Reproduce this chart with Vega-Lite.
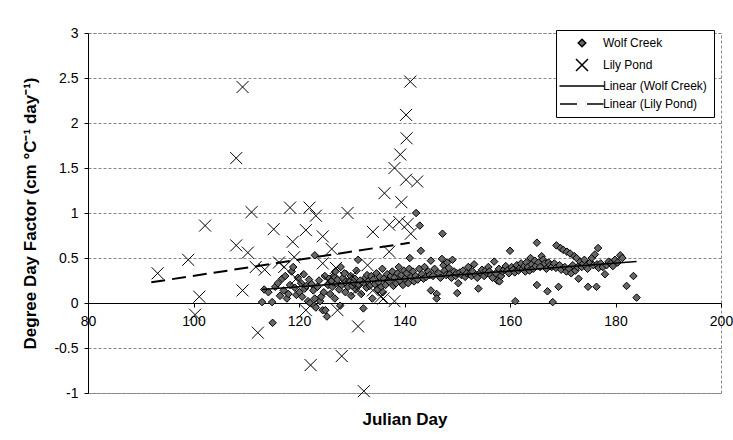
{
  "$schema": "https://vega.github.io/schema/vega-lite/v6.json",
  "width": 633,
  "height": 360,
  "autosize": "none",
  "padding": {"left": 88, "top": 33, "right": 12, "bottom": 47},
  "background": "white",
  "config": {
    "font": "Liberation Sans",
    "view": {"stroke": "#888", "strokeDash": [3, 2], "strokeWidth": 1}
  },
  "datasets": {
    "pts": [
      {"s":"Wolf Creek","d":113.0,"v":0.01},{"s":"Wolf Creek","d":113.4,"v":0.15},{"s":"Wolf Creek","d":114.2,"v":0.12},{"s":"Wolf Creek","d":114.9,"v":0.01},
      {"s":"Wolf Creek","d":115.0,"v":-0.22},{"s":"Wolf Creek","d":115.5,"v":0.18},{"s":"Wolf Creek","d":116.0,"v":0.22},{"s":"Wolf Creek","d":116.4,"v":0.08},{"s":"Wolf Creek","d":116.8,"v":0.27},
      {"s":"Wolf Creek","d":117.1,"v":0.14},{"s":"Wolf Creek","d":117.4,"v":0.30},{"s":"Wolf Creek","d":117.7,"v":0.05},
      {"s":"Wolf Creek","d":118.0,"v":0.10},{"s":"Wolf Creek","d":118.3,"v":0.20},{"s":"Wolf Creek","d":118.6,"v":0.35},{"s":"Wolf Creek","d":118.9,"v":0.40},
      {"s":"Wolf Creek","d":119.2,"v":0.17},{"s":"Wolf Creek","d":119.5,"v":0.09},{"s":"Wolf Creek","d":119.8,"v":0.28},
      {"s":"Wolf Creek","d":120.1,"v":0.12},{"s":"Wolf Creek","d":120.4,"v":0.22},{"s":"Wolf Creek","d":120.6,"v":0.07},{"s":"Wolf Creek","d":120.9,"v":0.32},
      {"s":"Wolf Creek","d":121.1,"v":0.16},{"s":"Wolf Creek","d":121.4,"v":0.19},{"s":"Wolf Creek","d":121.7,"v":0.02},{"s":"Wolf Creek","d":121.9,"v":0.26},
      {"s":"Wolf Creek","d":122.1,"v":0.00},{"s":"Wolf Creek","d":122.4,"v":0.21},{"s":"Wolf Creek","d":122.7,"v":0.14},{"s":"Wolf Creek","d":122.9,"v":-0.03},
      {"s":"Wolf Creek","d":123.0,"v":0.05},{"s":"Wolf Creek","d":123.2,"v":-0.05},{"s":"Wolf Creek","d":123.0,"v":0.53},{"s":"Wolf Creek","d":123.5,"v":0.18},{"s":"Wolf Creek","d":123.8,"v":0.25},
      {"s":"Wolf Creek","d":124.0,"v":0.02},{"s":"Wolf Creek","d":124.2,"v":0.07},{"s":"Wolf Creek","d":124.5,"v":-0.08},{"s":"Wolf Creek","d":124.7,"v":0.12},{"s":"Wolf Creek","d":124.9,"v":0.30},
      {"s":"Wolf Creek","d":125.3,"v":-0.15},{"s":"Wolf Creek","d":125.0,"v":-0.08},{"s":"Wolf Creek","d":125.5,"v":0.20},{"s":"Wolf Creek","d":125.7,"v":0.27},{"s":"Wolf Creek","d":125.9,"v":0.10},
      {"s":"Wolf Creek","d":126.1,"v":0.24},{"s":"Wolf Creek","d":126.3,"v":0.18},{"s":"Wolf Creek","d":126.6,"v":0.30},{"s":"Wolf Creek","d":126.8,"v":0.05},{"s":"Wolf Creek","d":126.9,"v":0.35},
      {"s":"Wolf Creek","d":127.1,"v":0.22},{"s":"Wolf Creek","d":127.3,"v":0.26},{"s":"Wolf Creek","d":127.6,"v":0.15},{"s":"Wolf Creek","d":127.8,"v":-0.03},{"s":"Wolf Creek","d":127.9,"v":0.40},
      {"s":"Wolf Creek","d":128.1,"v":0.20},{"s":"Wolf Creek","d":128.3,"v":0.28},{"s":"Wolf Creek","d":128.6,"v":0.33},{"s":"Wolf Creek","d":128.8,"v":0.12},{"s":"Wolf Creek","d":128.9,"v":0.24},
      {"s":"Wolf Creek","d":129.1,"v":0.21},{"s":"Wolf Creek","d":129.3,"v":0.18},{"s":"Wolf Creek","d":129.6,"v":0.25},{"s":"Wolf Creek","d":129.8,"v":0.30},{"s":"Wolf Creek","d":129.9,"v":0.08},
      {"s":"Wolf Creek","d":130.1,"v":0.19},{"s":"Wolf Creek","d":130.3,"v":0.23},{"s":"Wolf Creek","d":130.6,"v":0.27},{"s":"Wolf Creek","d":130.8,"v":0.15},{"s":"Wolf Creek","d":130.9,"v":0.36},
      {"s":"Wolf Creek","d":131.2,"v":0.48},{"s":"Wolf Creek","d":131.4,"v":0.20},{"s":"Wolf Creek","d":131.6,"v":0.25},{"s":"Wolf Creek","d":131.8,"v":0.10},
      {"s":"Wolf Creek","d":132.2,"v":-0.06},{"s":"Wolf Creek","d":132.3,"v":0.22},{"s":"Wolf Creek","d":132.6,"v":0.28},{"s":"Wolf Creek","d":132.8,"v":0.17},{"s":"Wolf Creek","d":132.9,"v":0.31},
      {"s":"Wolf Creek","d":133.1,"v":0.24},{"s":"Wolf Creek","d":133.4,"v":0.19},{"s":"Wolf Creek","d":133.7,"v":0.30},{"s":"Wolf Creek","d":133.9,"v":0.05},
      {"s":"Wolf Creek","d":134.1,"v":0.26},{"s":"Wolf Creek","d":134.4,"v":0.21},{"s":"Wolf Creek","d":134.7,"v":0.33},{"s":"Wolf Creek","d":134.9,"v":0.15},
      {"s":"Wolf Creek","d":135.1,"v":0.23},{"s":"Wolf Creek","d":135.3,"v":0.29},{"s":"Wolf Creek","d":135.6,"v":0.18},{"s":"Wolf Creek","d":135.8,"v":0.38},{"s":"Wolf Creek","d":135.9,"v":0.12},
      {"s":"Wolf Creek","d":136.1,"v":0.27},{"s":"Wolf Creek","d":136.4,"v":0.20},{"s":"Wolf Creek","d":136.7,"v":0.32},{"s":"Wolf Creek","d":136.9,"v":0.25},
      {"s":"Wolf Creek","d":137.1,"v":0.24},{"s":"Wolf Creek","d":137.4,"v":0.30},{"s":"Wolf Creek","d":137.7,"v":0.35},{"s":"Wolf Creek","d":137.9,"v":0.19},
      {"s":"Wolf Creek","d":138.1,"v":0.28},{"s":"Wolf Creek","d":138.4,"v":0.22},{"s":"Wolf Creek","d":138.7,"v":0.33},{"s":"Wolf Creek","d":138.9,"v":0.40},
      {"s":"Wolf Creek","d":139.1,"v":0.25},{"s":"Wolf Creek","d":139.4,"v":0.31},{"s":"Wolf Creek","d":139.7,"v":0.20},{"s":"Wolf Creek","d":139.9,"v":0.36},
      {"s":"Wolf Creek","d":140.1,"v":0.27},{"s":"Wolf Creek","d":140.4,"v":0.33},{"s":"Wolf Creek","d":140.7,"v":0.22},{"s":"Wolf Creek","d":140.9,"v":0.38},
      {"s":"Wolf Creek","d":141.0,"v":0.50},{"s":"Wolf Creek","d":141.3,"v":0.29},{"s":"Wolf Creek","d":141.6,"v":0.35},{"s":"Wolf Creek","d":141.8,"v":0.24},
      {"s":"Wolf Creek","d":142.2,"v":1.00},{"s":"Wolf Creek","d":142.1,"v":0.30},{"s":"Wolf Creek","d":142.5,"v":0.26},{"s":"Wolf Creek","d":142.8,"v":0.38},
      {"s":"Wolf Creek","d":142.9,"v":0.86},{"s":"Wolf Creek","d":143.1,"v":0.58},{"s":"Wolf Creek","d":143.3,"v":0.32},{"s":"Wolf Creek","d":143.6,"v":0.27},{"s":"Wolf Creek","d":143.8,"v":0.40},
      {"s":"Wolf Creek","d":144.1,"v":0.29},{"s":"Wolf Creek","d":144.5,"v":0.35},{"s":"Wolf Creek","d":144.8,"v":0.31},
      {"s":"Wolf Creek","d":145.0,"v":0.47},{"s":"Wolf Creek","d":145.0,"v":0.14},{"s":"Wolf Creek","d":145.4,"v":0.30},{"s":"Wolf Creek","d":145.7,"v":0.38},
      {"s":"Wolf Creek","d":146.1,"v":0.10},{"s":"Wolf Creek","d":146.1,"v":0.05},{"s":"Wolf Creek","d":146.5,"v":0.33},{"s":"Wolf Creek","d":146.8,"v":0.28},
      {"s":"Wolf Creek","d":147.2,"v":0.77},{"s":"Wolf Creek","d":147.1,"v":0.49},{"s":"Wolf Creek","d":147.4,"v":0.42},{"s":"Wolf Creek","d":147.6,"v":0.36},{"s":"Wolf Creek","d":147.9,"v":0.31},
      {"s":"Wolf Creek","d":148.1,"v":0.45},{"s":"Wolf Creek","d":148.4,"v":0.39},{"s":"Wolf Creek","d":148.6,"v":0.32},{"s":"Wolf Creek","d":148.9,"v":0.28},
      {"s":"Wolf Creek","d":149.1,"v":0.48},{"s":"Wolf Creek","d":149.4,"v":0.35},{"s":"Wolf Creek","d":149.7,"v":0.30},{"s":"Wolf Creek","d":149.9,"v":0.33},
      {"s":"Wolf Creek","d":150.0,"v":0.11},{"s":"Wolf Creek","d":150.2,"v":0.22},{"s":"Wolf Creek","d":150.5,"v":0.34},{"s":"Wolf Creek","d":150.8,"v":0.31},
      {"s":"Wolf Creek","d":151.1,"v":0.36},{"s":"Wolf Creek","d":151.5,"v":0.29},{"s":"Wolf Creek","d":151.8,"v":0.33},
      {"s":"Wolf Creek","d":152.1,"v":0.40},{"s":"Wolf Creek","d":152.4,"v":0.32},{"s":"Wolf Creek","d":152.7,"v":0.30},{"s":"Wolf Creek","d":152.9,"v":0.35},
      {"s":"Wolf Creek","d":153.2,"v":0.43},{"s":"Wolf Creek","d":153.5,"v":0.31},{"s":"Wolf Creek","d":153.8,"v":0.28},
      {"s":"Wolf Creek","d":154.0,"v":0.16},{"s":"Wolf Creek","d":154.4,"v":0.34},{"s":"Wolf Creek","d":154.7,"v":0.37},
      {"s":"Wolf Creek","d":155.1,"v":0.30},{"s":"Wolf Creek","d":155.4,"v":0.36},{"s":"Wolf Creek","d":155.7,"v":0.33},{"s":"Wolf Creek","d":155.9,"v":0.40},
      {"s":"Wolf Creek","d":156.1,"v":0.35},{"s":"Wolf Creek","d":156.4,"v":0.31},{"s":"Wolf Creek","d":156.7,"v":0.28},
      {"s":"Wolf Creek","d":157.0,"v":0.46},{"s":"Wolf Creek","d":157.3,"v":0.33},{"s":"Wolf Creek","d":157.6,"v":0.25},{"s":"Wolf Creek","d":157.9,"v":0.38},
      {"s":"Wolf Creek","d":158.0,"v":0.24},{"s":"Wolf Creek","d":158.3,"v":0.30},{"s":"Wolf Creek","d":158.6,"v":0.35},{"s":"Wolf Creek","d":158.9,"v":0.37},
      {"s":"Wolf Creek","d":159.2,"v":0.41},{"s":"Wolf Creek","d":159.5,"v":0.36},{"s":"Wolf Creek","d":159.8,"v":0.33},
      {"s":"Wolf Creek","d":160.0,"v":0.58},{"s":"Wolf Creek","d":160.3,"v":0.40},{"s":"Wolf Creek","d":160.6,"v":0.37},{"s":"Wolf Creek","d":160.9,"v":0.34},
      {"s":"Wolf Creek","d":161.0,"v":0.02},{"s":"Wolf Creek","d":161.3,"v":0.42},{"s":"Wolf Creek","d":161.6,"v":0.36},{"s":"Wolf Creek","d":161.9,"v":0.39},
      {"s":"Wolf Creek","d":162.1,"v":0.44},{"s":"Wolf Creek","d":162.4,"v":0.38},{"s":"Wolf Creek","d":162.7,"v":0.41},{"s":"Wolf Creek","d":162.9,"v":0.35},
      {"s":"Wolf Creek","d":163.1,"v":0.45},{"s":"Wolf Creek","d":163.4,"v":0.40},{"s":"Wolf Creek","d":163.7,"v":0.36},{"s":"Wolf Creek","d":163.9,"v":0.50},
      {"s":"Wolf Creek","d":164.1,"v":0.43},{"s":"Wolf Creek","d":164.4,"v":0.38},{"s":"Wolf Creek","d":164.7,"v":0.47},{"s":"Wolf Creek","d":164.9,"v":0.41},
      {"s":"Wolf Creek","d":165.1,"v":0.67},{"s":"Wolf Creek","d":165.1,"v":0.20},{"s":"Wolf Creek","d":165.4,"v":0.45},{"s":"Wolf Creek","d":165.7,"v":0.40},
      {"s":"Wolf Creek","d":166.0,"v":0.52},{"s":"Wolf Creek","d":166.3,"v":0.48},{"s":"Wolf Creek","d":166.6,"v":0.44},{"s":"Wolf Creek","d":166.9,"v":0.38},
      {"s":"Wolf Creek","d":167.1,"v":0.13},{"s":"Wolf Creek","d":167.3,"v":0.45},{"s":"Wolf Creek","d":167.6,"v":0.42},{"s":"Wolf Creek","d":167.9,"v":0.40},
      {"s":"Wolf Creek","d":168.1,"v":0.01},{"s":"Wolf Creek","d":168.4,"v":0.44},{"s":"Wolf Creek","d":168.7,"v":0.39},
      {"s":"Wolf Creek","d":168.8,"v":0.64},{"s":"Wolf Creek","d":169.2,"v":0.18},{"s":"Wolf Creek","d":169.4,"v":0.42},{"s":"Wolf Creek","d":169.7,"v":0.37},
      {"s":"Wolf Creek","d":169.6,"v":0.61},{"s":"Wolf Creek","d":170.1,"v":0.59},{"s":"Wolf Creek","d":170.4,"v":0.40},{"s":"Wolf Creek","d":170.7,"v":0.35},
      {"s":"Wolf Creek","d":170.8,"v":0.57},{"s":"Wolf Creek","d":171.4,"v":0.55},{"s":"Wolf Creek","d":171.2,"v":0.38},{"s":"Wolf Creek","d":171.6,"v":0.33},{"s":"Wolf Creek","d":171.9,"v":0.42},
      {"s":"Wolf Creek","d":172.2,"v":0.52},{"s":"Wolf Creek","d":172.6,"v":0.50},{"s":"Wolf Creek","d":172.4,"v":0.36},{"s":"Wolf Creek","d":172.8,"v":0.40},
      {"s":"Wolf Creek","d":173.0,"v":0.27},{"s":"Wolf Creek","d":173.3,"v":0.46},{"s":"Wolf Creek","d":173.6,"v":0.40},{"s":"Wolf Creek","d":173.9,"v":0.44},
      {"s":"Wolf Creek","d":174.1,"v":0.48},{"s":"Wolf Creek","d":174.4,"v":0.41},{"s":"Wolf Creek","d":174.7,"v":0.38},
      {"s":"Wolf Creek","d":174.8,"v":0.18},{"s":"Wolf Creek","d":175.2,"v":0.45},{"s":"Wolf Creek","d":175.5,"v":0.50},{"s":"Wolf Creek","d":175.8,"v":0.42},
      {"s":"Wolf Creek","d":176.4,"v":0.18},{"s":"Wolf Creek","d":176.1,"v":0.54},{"s":"Wolf Creek","d":176.5,"v":0.43},{"s":"Wolf Creek","d":176.8,"v":0.39},
      {"s":"Wolf Creek","d":176.7,"v":0.61},{"s":"Wolf Creek","d":177.2,"v":0.44},{"s":"Wolf Creek","d":177.6,"v":0.40},
      {"s":"Wolf Creek","d":178.0,"v":0.32},{"s":"Wolf Creek","d":178.3,"v":0.42},{"s":"Wolf Creek","d":178.7,"v":0.46},
      {"s":"Wolf Creek","d":179.1,"v":0.44},{"s":"Wolf Creek","d":179.5,"v":0.41},{"s":"Wolf Creek","d":179.9,"v":0.48},{"s":"Wolf Creek","d":180.4,"v":0.45},
      {"s":"Wolf Creek","d":180.9,"v":0.53},{"s":"Wolf Creek","d":181.3,"v":0.50},{"s":"Wolf Creek","d":182.1,"v":0.19},{"s":"Wolf Creek","d":183.4,"v":0.30},{"s":"Wolf Creek","d":184.0,"v":0.06},
      {"s":"Lily Pond","d":93.2,"v":0.33},{"s":"Lily Pond","d":99.0,"v":0.48},{"s":"Lily Pond","d":102.2,"v":0.86},{"s":"Lily Pond","d":101.1,"v":0.07},{"s":"Lily Pond","d":100.3,"v":-0.13},
      {"s":"Lily Pond","d":108.1,"v":0.64},{"s":"Lily Pond","d":110.3,"v":0.56},{"s":"Lily Pond","d":109.3,"v":0.14},{"s":"Lily Pond","d":112.2,"v":-0.33},{"s":"Lily Pond","d":115.2,"v":0.82},
      {"s":"Lily Pond","d":111.8,"v":0.40},{"s":"Lily Pond","d":116.2,"v":0.45},{"s":"Lily Pond","d":118.8,"v":0.68},{"s":"Lily Pond","d":119.1,"v":0.51},{"s":"Lily Pond","d":121.3,"v":0.81},
      {"s":"Lily Pond","d":124.5,"v":0.74},{"s":"Lily Pond","d":126.2,"v":0.60},{"s":"Lily Pond","d":122.2,"v":-0.69},{"s":"Lily Pond","d":128.1,"v":-0.59},{"s":"Lily Pond","d":131.2,"v":-0.26},
      {"s":"Lily Pond","d":132.3,"v":-0.98},{"s":"Lily Pond","d":109.3,"v":2.40},{"s":"Lily Pond","d":108.1,"v":1.61},{"s":"Lily Pond","d":111.0,"v":1.01},{"s":"Lily Pond","d":118.3,"v":1.06},
      {"s":"Lily Pond","d":122.0,"v":1.06},{"s":"Lily Pond","d":123.2,"v":0.97},{"s":"Lily Pond","d":129.2,"v":1.00},{"s":"Lily Pond","d":141.1,"v":2.46},{"s":"Lily Pond","d":140.3,"v":2.09},
      {"s":"Lily Pond","d":140.4,"v":1.83},{"s":"Lily Pond","d":139.2,"v":1.65},{"s":"Lily Pond","d":138.1,"v":1.50},{"s":"Lily Pond","d":140.3,"v":1.37},{"s":"Lily Pond","d":142.4,"v":1.35},
      {"s":"Lily Pond","d":136.2,"v":1.22},{"s":"Lily Pond","d":139.4,"v":1.12},{"s":"Lily Pond","d":134.0,"v":0.79},{"s":"Lily Pond","d":137.1,"v":0.87},{"s":"Lily Pond","d":139.0,"v":0.90},
      {"s":"Lily Pond","d":140.6,"v":0.88},{"s":"Lily Pond","d":141.2,"v":0.77},{"s":"Lily Pond","d":137.1,"v":0.57},{"s":"Lily Pond","d":134.0,"v":0.14},{"s":"Lily Pond","d":135.5,"v":0.07},
      {"s":"Lily Pond","d":138.1,"v":0.02},{"s":"Lily Pond","d":117.2,"v":0.40},{"s":"Lily Pond","d":124.5,"v":0.44},{"s":"Lily Pond","d":127.0,"v":0.39},{"s":"Lily Pond","d":121.3,"v":-0.08},
      {"s":"Lily Pond","d":127.3,"v":-0.08},{"s":"Lily Pond","d":113.5,"v":0.37},{"s":"Lily Pond","d":119.5,"v":0.27},{"s":"Lily Pond","d":125.5,"v":0.25},{"s":"Lily Pond","d":130.0,"v":0.30},
      {"s":"Lily Pond","d":133.0,"v":0.42},{"s":"Lily Pond","d":136.0,"v":0.05},{"s":"Lily Pond","d":131.0,"v":0.15}
    ],
    "trend": [
      {"s":"Linear (Wolf Creek)","d":113,"v":0.15},{"s":"Linear (Wolf Creek)","d":184,"v":0.46},
      {"s":"Linear (Lily Pond)","d":92,"v":0.23},{"s":"Linear (Lily Pond)","d":141,"v":0.67}
    ]
  },
  "layer": [
    {
      "data": {"name": "pts"},
      "mark": {"type": "point", "size": 100, "strokeWidth": 1, "opacity": 1},
      "encoding": {
        "x": {
          "field": "d", "type": "quantitative",
          "scale": {"domain": [80, 200], "nice": false, "zero": false},
          "axis": {
            "title": "Julian Day", "titleFontSize": 17, "titleFontWeight": "bold", "titleColor": "black",
            "titleBaseline": "top", "titleY": 108,
            "offset": -90, "values": [80, 100, 120, 140, 160, 180, 200],
            "labelExpr": "datum.value + ''", "labelFontSize": 14, "labelColor": "black", "labelPadding": 7,
            "labelFlush": false, "labelOverlap": false,
            "tickSize": 4, "tickColor": "black", "domainColor": "black", "grid": false
          }
        },
        "y": {
          "field": "v", "type": "quantitative",
          "scale": {"domain": [-1, 3], "nice": false},
          "axis": {
            "title": "Degree Day Factor (cm °C⁻¹ day⁻¹)", "titleFontSize": 17, "titleFontWeight": "bold", "titleColor": "black",
            "titlePadding": 14,
            "values": [-1, -0.5, 0, 0.5, 1, 1.5, 2, 2.5, 3],
            "labelExpr": "datum.value + ''", "labelFontSize": 14, "labelColor": "black", "labelPadding": 6,
            "tickSize": 4, "tickColor": "black", "domainColor": "black",
            "grid": true, "gridColor": "#888", "gridDash": [3, 2], "gridWidth": 1
          }
        },
        "shape": {
          "field": "s", "type": "nominal",
          "scale": {
            "domain": ["Wolf Creek", "Lily Pond", "Linear (Wolf Creek)", "Linear (Lily Pond)"],
            "range": ["M0,-0.75L0.75,0L0,0.75L-0.75,0Z", "M-1.2,-1.2L1.2,1.2M-1.2,1.2L1.2,-1.2", "M-4.5,0L4.5,0", "M-4.4,0L-1,0M1,0L4.3,0"]
          },
          "legend": {
            "title": null, "orient": "none", "legendX": 468, "legendY": -3,
            "strokeColor": "black", "fillColor": "white", "padding": 7, "cornerRadius": 0,
            "labelFontSize": 12, "labelColor": "black", "symbolSize": 100, "symbolOffset": 13, "labelOffset": 15,
            "rowPadding": 6, "symbolStrokeWidth": 1.5
          }
        },
        "fill": {
          "field": "s", "type": "nominal",
          "scale": {
            "domain": ["Wolf Creek", "Lily Pond", "Linear (Wolf Creek)", "Linear (Lily Pond)"],
            "range": ["#666666", "transparent", "transparent", "transparent"]
          },
          "legend": {
            "title": null, "orient": "none", "legendX": 468, "legendY": -3,
            "strokeColor": "black", "fillColor": "white", "padding": 7, "cornerRadius": 0,
            "labelFontSize": 12, "labelColor": "black", "symbolSize": 100, "symbolOffset": 13, "labelOffset": 15,
            "rowPadding": 6, "symbolStrokeWidth": 1.5
          }
        },
        "stroke": {
          "field": "s", "type": "nominal",
          "scale": {
            "domain": ["Wolf Creek", "Lily Pond", "Linear (Wolf Creek)", "Linear (Lily Pond)"],
            "range": ["black", "black", "black", "black"]
          },
          "legend": {
            "title": null, "orient": "none", "legendX": 468, "legendY": -3,
            "strokeColor": "black", "fillColor": "white", "padding": 7, "cornerRadius": 0,
            "labelFontSize": 12, "labelColor": "black", "symbolSize": 100, "symbolOffset": 13, "labelOffset": 15,
            "rowPadding": 6, "symbolStrokeWidth": 1.5
          }
        }
      }
    },
    {
      "data": {"name": "trend"},
      "transform": [{"filter": "datum.s == 'Linear (Wolf Creek)'"}],
      "mark": {"type": "line", "color": "black", "strokeWidth": 1.5},
      "encoding": {
        "x": {"field": "d", "type": "quantitative"},
        "y": {"field": "v", "type": "quantitative"}
      }
    },
    {
      "data": {"name": "trend"},
      "transform": [{"filter": "datum.s == 'Linear (Lily Pond)'"}],
      "mark": {"type": "line", "color": "black", "strokeWidth": 2, "strokeDash": [14, 7]},
      "encoding": {
        "x": {"field": "d", "type": "quantitative"},
        "y": {"field": "v", "type": "quantitative"}
      }
    }
  ]
}
